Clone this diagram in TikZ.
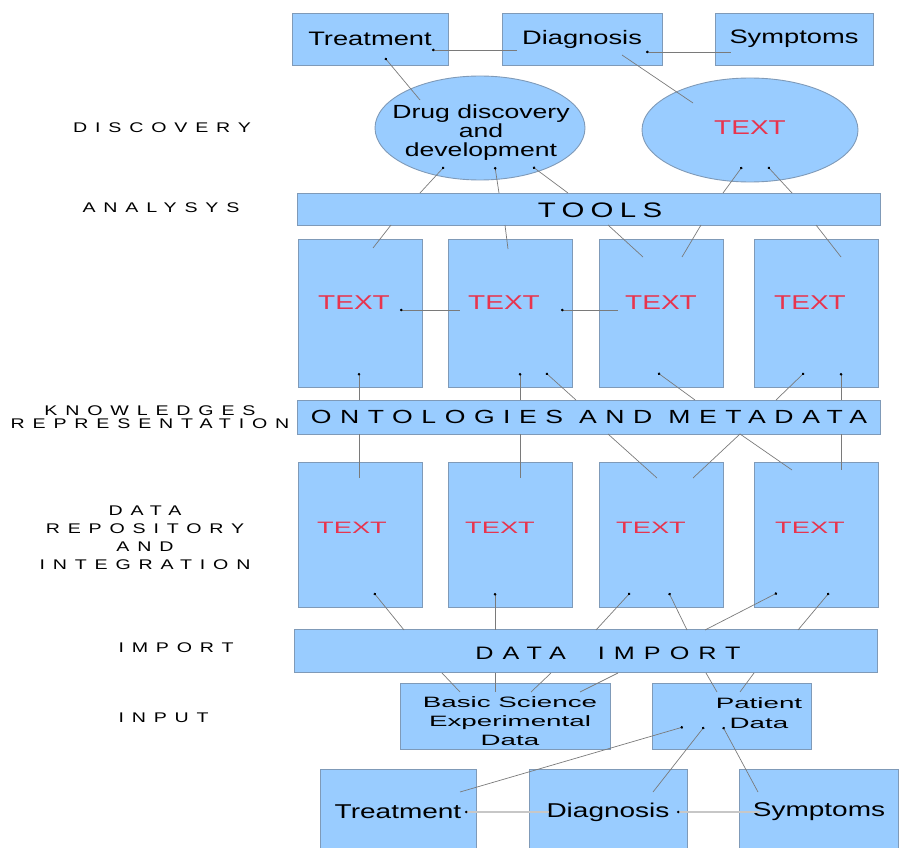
\documentclass[tikz,border=0pt]{standalone}
\usepackage{fontspec}
\setmainfont{Liberation Sans}[FakeStretch=1.4]
\newfontfamily\widefont{Liberation Sans}[FakeStretch=1.85]
\newfontfamily\flatfont{Liberation Sans}[FakeStretch=1.65]
\usetikzlibrary{calc,shapes.geometric,arrows.meta}

\definecolor{boxfill}{HTML}{99CCFF}
\definecolor{boxline}{HTML}{7F9AB8}
\definecolor{txtred}{HTML}{E8344E}
\definecolor{linkgray}{HTML}{7A7A7A}

\tikzset{
  box/.style={draw=boxline, fill=boxfill, line width=0.9pt, inner sep=0pt},
  bar/.style={box, minimum width=583pt},
  tallbox/.style={box, minimum width=124pt},
  oval/.style={ellipse, draw=boxline, fill=boxfill, line width=0.9pt, inner sep=0pt},
  link/.style={draw=linkgray, line width=0.7pt},
  dotlink/.style={link, {Circle[length=2.6pt,color=black]}-},
  faint/.style={draw=black!22, line width=1.2pt, {Circle[length=2.4pt,color=black]}-},
  redtxt/.style={text=txtred, font=\fontsize{20}{24}\selectfont},
  flattxt/.style={text=txtred, font=\flatfont\fontsize{16.5}{20}\selectfont},
  tag/.style={font=\fontsize{14}{13}\selectfont\addfontfeature{LetterSpace=56}, align=center},
  big/.style={font=\fontsize{19.5}{23}\selectfont},
}

\begin{document}
\begin{tikzpicture}[x=1pt, y=-1pt]
  \useasboundingbox (0,0) rectangle (903,848);

  % --- layer labels on the left ---
  \node[tag] (lDisc) at (162,128) {DISCOVERY};
  \node[tag] (lAnal) at (161,208) {ANALYSYS};
  \node[tag] (lKnow) at (150,417) {KNOWLEDGES\\REPRESENTATION};
  \node[tag, font=\fontsize{14}{18}\selectfont\addfontfeature{LetterSpace=56}] (lRepo) at (145,538) {DATA\\REPOSITORY\\AND\\INTEGRATION};
  \node[tag, anchor=west] (lImp) at (115,648) {IMPORT};
  \node[tag, anchor=west] (lInp) at (115,718) {INPUT};

  % --- top row ---
  \node[box, big, minimum width=156pt, minimum height=52pt] (tTreat) at (370,39) {Treatment};
  \node[box, big, minimum width=160pt, minimum height=52pt] (tDiag) at (582,39) {Diagnosis};
  \node[box, big, minimum width=158pt, minimum height=52pt] (tSymp) at (794,39) {Symptoms};

  % --- discovery ellipses ---
  \node[oval, minimum width=210pt, minimum height=104pt] (eDrug) at (480,128) {};
  \node[align=center, font=\fontsize{19}{19}\selectfont] (eDrugTxt) at (481,133) {Drug discovery\\and\\development};
  \node[oval, minimum width=216pt, minimum height=104pt] (eText) at (750,130) {};
  \node[redtxt] (eTextTxt) at (750,128) {TEXT};

  % --- tools bar ---
  \node[bar, minimum height=32pt] (tools) at (589,209) {};
  \node[font=\fontsize{21}{25}\selectfont\addfontfeature{LetterSpace=30}] (toolsTxt) at (600,210) {TOOLS};

  % --- analysis boxes ---
  \foreach \nm/\xx/\tx in {u1/360/354, u2/510/504, u3/661/661, u4/816/810} {
    \node[tallbox, minimum height=148pt] (\nm) at (\xx,313) {};
    \node[redtxt] (\nm t) at (\tx,303) {TEXT};
  }

  % --- ontology bar ---
  \node[bar, minimum height=34pt, font=\fontsize{19}{23}\selectfont\addfontfeature{LetterSpace=45}] (onto) at (589,417) {ONTOLOGIES AND METADATA};

  % --- repository boxes ---
  \foreach \nm/\xx/\tx in {l1/360/352, l2/510/500, l3/661/651, l4/816/810} {
    \node[tallbox, minimum height=145pt] (\nm) at (\xx,535) {};
    \node[flattxt] (\nm t) at (\tx,528) {TEXT};
  }

  % --- import bar ---
  \node[bar, minimum height=43pt] (imp) at (586,651) {};
  \node[font=\fontsize{18}{22}\selectfont\addfontfeature{LetterSpace=50}] (impTxt) at (608,653) {DATA\ \ IMPORT};

  % --- input boxes ---
  \node[box, minimum width=210pt, minimum height=66pt] (bas) at (505,716) {};
  \node[align=center, font=\widefont\fontsize{15}{19}\selectfont] (basTxt) at (510,721) {Basic Science\\Experimental\\Data};
  \node[box, minimum width=159pt, minimum height=66pt] (pat) at (732,716) {};
  \node[align=center, font=\widefont\fontsize{15}{20}\selectfont] (patTxt) at (759,713) {Patient\\Data};

  % --- bottom row (cut by the page edge) ---
  \node[box, font=\fontsize{20}{24}\selectfont, minimum width=156pt, minimum height=86pt] (bT) at (398,812) {Treatment};
  \node[box, font=\fontsize{20}{24}\selectfont, minimum width=158pt, minimum height=86pt] (bD) at (608,812) {Diagnosis};
  \node[box, font=\fontsize{20}{24}\selectfont, minimum width=159pt, minimum height=86pt] (bS) at (819,812) {Symptoms};

  % --- connectors: top row ---
  \draw[dotlink] ($(tTreat)+(62,11)$) -- ($(tDiag)+(-65,11)$);
  \draw[dotlink] ($(tDiag)+(64,13)$) -- ($(tSymp)+(-63,13)$);
  \draw[dotlink] ($(tTreat)+(15,19)$) -- ($(eDrug)+(-60,-28)$);
  \draw[link] ($(tDiag)+(40,16)$) -- ($(eText)+(-57,-27)$);

  % --- ellipses to tools ---
  \foreach \ax/\bx in {-36/-169, 15/-90, 53/-21}
    \draw[dotlink] ($(eDrug)+(\ax,39)$) -- ($(tools)+(\bx,-16)$);
  \foreach \ax/\bx in {-8/134, 18/203}
    \draw[dotlink] ($(eText)+(\ax,37)$) -- ($(tools)+(\bx,-16)$);

  % --- tools to analysis boxes ---
  \foreach \ax/\nm/\bx/\by in {-198/u1/13/-65, -84/u2/-2/-64, 19/u3/-18/-56, 112/u3/21/-56, 227/u4/25/-56}
    \draw[link] ($(tools)+(\ax,16)$) -- ($(\nm)+(\bx,\by)$);
  \draw[dotlink] ($(u1)+(40,-3)$) -- ($(u2)+(-50,-3)$);
  \draw[dotlink] ($(u2)+(51,-3)$) -- ($(u3)+(-43,-3)$);

  % --- analysis boxes to ontology bar ---
  \foreach \nm/\ax/\bx in {u1/-1/-230, u2/10/-69, u2/36/-13, u3/-3/106, u4/-12/187, u4/25/252}
    \draw[dotlink] ($(\nm)+(\ax,60)$) -- ($(onto)+(\bx,-17)$);

  % --- ontology bar to repository boxes ---
  \foreach \ax/\nm/\bx/\by in {-230/l1/-1/-57, -69/l2/10/-57, 19/l3/-4/-57, 151/l3/32/-57, 151/l4/-24/-65, 252/l4/25/-65}
    \draw[link] ($(onto)+(\ax,17)$) -- ($(\nm)+(\bx,\by)$);

  % --- repository boxes to import bar ---
  \foreach \nm/\ax/\bx in {l1/14/-182, l2/-15/-91, l3/-31/10, l3/8/101, l4/-39/119, l4/13/212}
    \draw[dotlink] ($(\nm)+(\ax,58)$) -- ($(imp)+(\bx,-21)$);

  % --- import bar to input boxes ---
  \foreach \ax/\nm/\bx in {-144/bas/-45, -91/bas/-10, -35/bas/26, 32/bas/75, 120/pat/-15, 168/pat/8}
    \draw[link] ($(imp)+(\ax,22)$) -- ($(\nm)+(\bx,-24)$);

  % --- patient data to bottom row ---
  \draw[dotlink] ($(pat)+(-49,11)$) -- ($(bT)+(62,-20)$);
  \draw[dotlink] ($(pat)+(-28,11)$) -- ($(bD)+(45,-20)$);
  \draw[dotlink] ($(pat)+(-9,11)$) -- ($(bS)+(-61,-20)$);
  \draw[faint] ($(bT)+(67,0)$) -- ($(bD)+(-59,0)$);
  \draw[faint] ($(bD)+(69,0)$) -- ($(bS)+(-59,0)$);
\end{tikzpicture}
\end{document}
